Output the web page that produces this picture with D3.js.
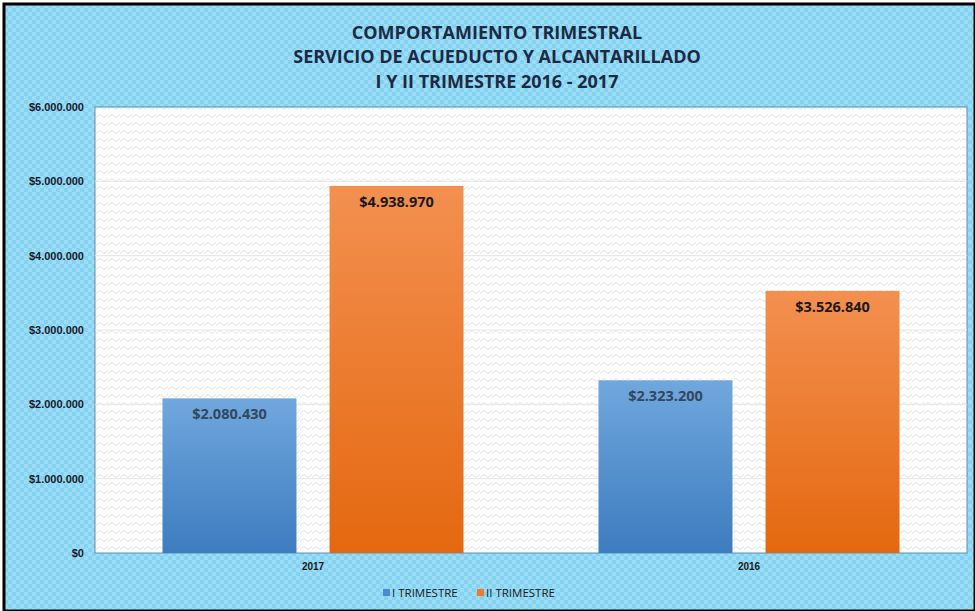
<!DOCTYPE html>
<html>
<head>
<meta charset="utf-8">
<script src="https://cdn.jsdelivr.net/npm/d3@7"></script>
<style>
html,body{margin:0;padding:0;background:#fff;}
svg{display:block;font-family:"Open Sans","Noto Sans",sans-serif;}
</style>
</head>
<body>
<svg id="chart" width="975" height="611"></svg>
<script>
const categories = ["2017", "2016"];
const seriesNames = ["I TRIMESTRE", "II TRIMESTRE"];
const trimestreI = [2080430, 2323200];
const trimestreII = [4938970, 3526840];
const yTicks = [0, 1000000, 2000000, 3000000, 4000000, 5000000, 6000000];
const titleLines = ["COMPORTAMIENTO TRIMESTRAL", "SERVICIO DE ACUEDUCTO Y ALCANTARILLADO", "I Y II TRIMESTRE 2016 - 2017"];

const W = 975, H = 611;
const svg = d3.select("#chart");
const defs = svg.append("defs");

// background checker pattern
const bg = defs.append("pattern").attr("id","bgpat").attr("width",8).attr("height",8).attr("patternUnits","userSpaceOnUse");
bg.append("rect").attr("width",8).attr("height",8).attr("fill","#83d2f1");
bg.append("rect").attr("width",4).attr("height",4).attr("fill","#9cdcf5");
bg.append("rect").attr("x",4).attr("y",4).attr("width",4).attr("height",4).attr("fill","#9cdcf5");

// plot area wave pattern
const pp = defs.append("pattern").attr("id","plotpat").attr("width",12).attr("height",8).attr("patternUnits","userSpaceOnUse");
pp.append("rect").attr("width",12).attr("height",8).attr("fill","#ffffff");
pp.append("path").attr("d","M0,6 Q3,1 6,4 T12,2").attr("fill","none").attr("stroke","#dadada").attr("stroke-width",0.8);

function grad(id, c1, c2){
  const g = defs.append("linearGradient").attr("id",id).attr("x1",0).attr("y1",0).attr("x2",0).attr("y2",1);
  g.append("stop").attr("offset","0%").attr("stop-color",c1);
  g.append("stop").attr("offset","100%").attr("stop-color",c2);
}
grad("gBlue","#70a7dd","#3d7cc0");
grad("gOrange","#f39050","#e4680f");

// frame
svg.append("rect").attr("x",0).attr("y",0).attr("width",W).attr("height",H).attr("fill","#fff");
svg.append("rect").attr("x",4).attr("y",4).attr("width",W-4).attr("height",H-4).attr("fill","url(#bgpat)")
  .attr("stroke","#000").attr("stroke-width",3);

const margin = {left:95, right:8, top:107, bottom:58};
const x0 = d3.scaleBand().domain(categories).range([margin.left, W-margin.right]).paddingInner(0).paddingOuter(0);
const x1 = d3.scaleBand().domain(seriesNames).range([0, x0.bandwidth()]).paddingInner(0.198).paddingOuter(0.404);
const y = d3.scaleLinear().domain([0,6000000]).range([H-margin.bottom, margin.top]);

// plot area
svg.append("rect").attr("x",margin.left).attr("y",margin.top)
  .attr("width",W-margin.right-margin.left).attr("height",H-margin.bottom-margin.top)
  .attr("fill","url(#plotpat)").attr("stroke","#5f8fb0").attr("stroke-width",1);

// gridlines
svg.append("g").selectAll("line").data(yTicks.slice(1,-1)).join("line")
  .attr("x1",margin.left).attr("x2",W-margin.right)
  .attr("y1",d=>y(d)).attr("y2",d=>y(d))
  .attr("stroke","#e6e6e6").attr("stroke-width",1);

// y axis
const fmt = d => "$" + d3.format(",")(d).replace(/,/g,".");
const yAxis = d3.axisLeft(y).tickValues(yTicks).tickFormat(fmt).tickSize(0).tickPadding(11);
const yg = svg.append("g").attr("transform",`translate(${margin.left},0)`).call(yAxis);
yg.select(".domain").remove();
yg.selectAll("text").attr("font-size",11).attr("font-weight","bold").attr("fill","#1a1a2a");

// x axis
const xAxis = d3.axisBottom(x0).tickSize(0).tickPadding(10);
const xg = svg.append("g").attr("transform",`translate(0,${H-margin.bottom})`).call(xAxis);
xg.select(".domain").remove();
xg.selectAll("text").attr("font-size",10).attr("font-weight","bold").attr("fill","#1a1a1a");

// bars
const data = categories.map((c,i)=>({cat:c, vals:[{s:seriesNames[0], v:trimestreI[i]},{s:seriesNames[1], v:trimestreII[i]}]}));
const fills = {"I TRIMESTRE":"url(#gBlue)","II TRIMESTRE":"url(#gOrange)"};
const labelColors = {"I TRIMESTRE":"#33475e","II TRIMESTRE":"#1a1a1a"};
const groups = svg.append("g").selectAll("g").data(data).join("g")
  .attr("transform",d=>`translate(${x0(d.cat)},0)`);
groups.selectAll("rect").data(d=>d.vals).join("rect")
  .attr("x",d=>x1(d.s)).attr("width",x1.bandwidth())
  .attr("y",d=>y(d.v)).attr("height",d=>y(0)-y(d.v))
  .attr("fill",d=>fills[d.s]);
groups.selectAll("text").data(d=>d.vals).join("text")
  .attr("x",d=>x1(d.s)+x1.bandwidth()/2).attr("y",d=>y(d.v)+21)
  .attr("text-anchor","middle").attr("font-size",14.5).attr("font-weight","bold")
  .attr("fill",d=>labelColors[d.s]).text(d=>fmt(d.v));

// title
svg.append("g").selectAll("text").data(titleLines).join("text")
  .attr("x",497).attr("y",(d,i)=>38.5+i*24.5).attr("text-anchor","middle")
  .attr("font-size",18).attr("font-weight","bold").attr("fill","#1d2a44").text(d=>d);

// legend
const legendColors = ["#4a8bd0","#ef7a2a"];
const lx = [383, 477];
const lg = svg.append("g").selectAll("g").data(seriesNames).join("g")
  .attr("transform",(d,i)=>`translate(${lx[i]},593)`);
lg.append("rect").attr("x",0).attr("y",-4).attr("width",7).attr("height",7).attr("fill",(d,i)=>legendColors[i]);
lg.append("text").attr("x",9).attr("y",4).attr("font-size",11.5).attr("fill","#1a1a1a").text(d=>d);
</script>
</body>
</html>
